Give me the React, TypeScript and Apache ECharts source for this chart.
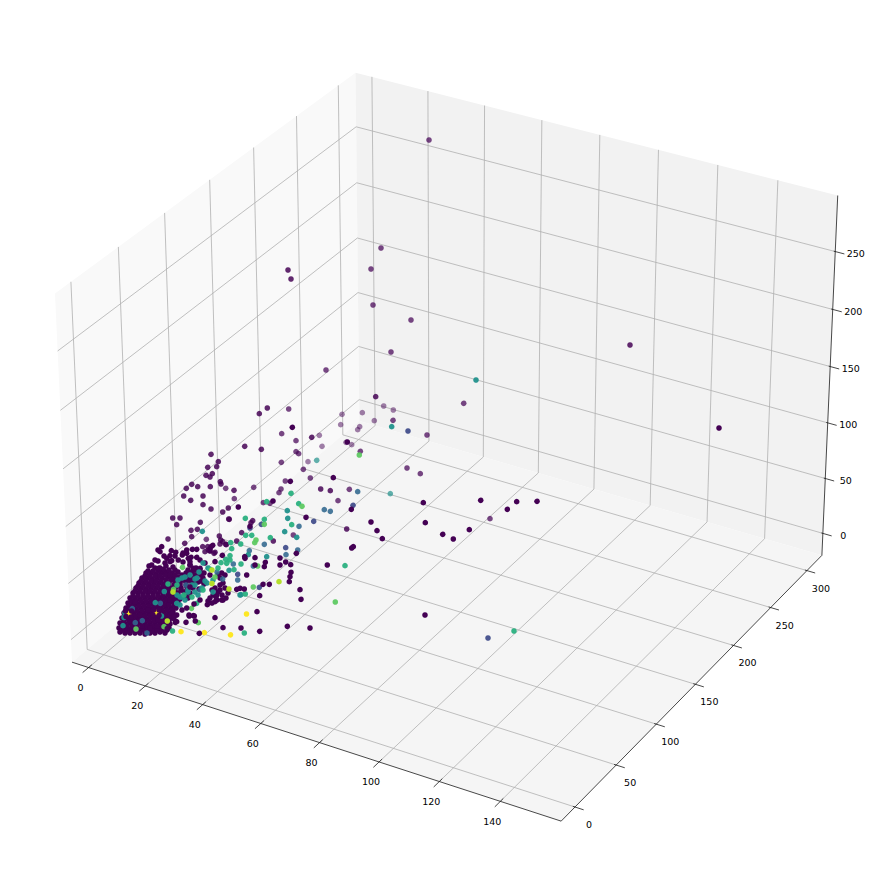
import React, { useEffect, useRef } from "react";
import * as echarts from "echarts";

type Pt = [number, number];

const xTicks = [0, 20, 40, 60, 80, 100, 120, 140];
const yTicks = [0, 50, 100, 150, 200, 250, 300];
const zTicks = [0, 50, 100, 150, 200, 250];
const xLim: Pt = [-5.9, 159.7];
const yLim: Pt = [-16.5, 321];
const zLim: Pt = [-20.2, 297.8];

const purpleFaint: Pt[] = [[383.7,406],[393.3,410],[362.3,412.7],[342,414.3],[340.7,424.7],[359.7,426.7],[357.7,429.7],[374.3,420.7],[346,442.3],[351.7,444.7],[322,446.3],[319.3,435.3],[308,461.7]];
const purpleSoft: Pt[] = [[429,140],[381,248],[371,269],[373,305],[411,320],[391,352],[326,370],[393,420.3],[427,435],[463.7,403.3],[360.3,451.3],[407,468],[420.3,473.7],[349.3,489.3],[338,500.7],[490,518.7],[288.7,409],[281.7,433.7],[296,440.7],[296,451.7],[298.7,453.7],[281.3,462.3],[303.3,469.3],[310.3,478],[285.3,481],[281,489],[279,492.7],[253.7,487.3],[263.3,502.7],[270,503.3],[234.3,498.7],[225.7,488.3],[293.3,535],[206.3,539.3]];
const purpleDeep: Pt[] = [[375.7,396.7],[288,270],[291,279],[630,345],[267.3,408],[259.3,413.7],[311.7,437.3],[244.7,446.3],[261.3,449.3],[234,490.3],[320.7,489],[330.3,490.7],[346.7,529],[229.3,519.3],[252.7,520.7],[251,522.7],[241.7,532.7],[219.3,536],[220.7,540],[236.7,541],[225.7,544.3],[220,544],[215,552.3],[210,549.3],[273.3,541],[211,454.3],[218.3,461.7],[216.7,466.7],[207.7,467.3],[212.3,473.7],[206,475.3],[210,477],[220.3,481.7],[221,484],[191.7,484.3],[197.7,486.7],[186.3,488.3],[210.3,486.7],[183.7,496],[203,496],[190.7,500.3],[203,504.7],[211,509],[228.3,508],[222.7,512],[172.7,518],[180,518],[176.7,524.7],[228.7,519],[200.3,522.3],[197.3,529.3],[191,530.3],[191.7,536.7],[168,539],[184.7,543.3],[222.7,541.7],[226.3,544.7],[202.7,546.7],[207.7,546.7],[205,551.7],[208.3,550],[214,553.3]];
const purpleBase: Pt[] = [
  [120,632],[125,633],[130,633],[135,633],[140,633],[145,634],[150,633],[155,633],[160,632],[165,633],
  [119,628],[124,628],[129,629],[134,628],[139,629],[144,628],[149,628],[154,629],[159,628],[164,627],[169,628],
  [120,623],[125,624],[130,623],[135,624],[140,623],[145,624],[150,623],[155,624],[160,623],[165,623],[170,624],
  [122,618],[127,618],[132,619],[137,618],[142,618],[147,619],[152,618],[157,618],[162,619],[167,617],[172,618],
  [124,613],[129,613],[134,614],[139,613],[144,613],[149,614],[154,613],[159,614],[164,612],[169,613],[173,612],
  [126,608],[131,608],[136,609],[141,608],[146,608],[151,609],[156,608],[161,608],[166,607],[171,608],[176,608],
  [128,603],[133,603],[138,604],[143,603],[148,603],[153,604],[158,603],[163,603],[168,603],[173,602],[178,603],
  [130,598],[135,598],[140,599],[145,598],[150,598],[155,599],[160,598],[165,598],[170,597],[175,598],[180,599],[188,598],
  [133,593],[138,593],[143,594],[148,593],[153,593],[158,594],[163,593],[168,593],[173,594],[178,593],[184,592],[190,593],
  [136,588],[141,588],[146,589],[151,588],[156,588],[161,589],[166,588],[171,588],[176,587],[181,588],[187,587],[193,588],[199,589],
  [139,583],[144,583],[149,584],[154,583],[159,583],[164,584],[169,583],[175,582],[180,583],[186,582],[192,583],[198,582],[204,584],
  [142,578],[147,578],[152,579],[157,578],[162,578],[168,577],[173,578],[179,577],[185,578],[191,578],[197,577],[203,578],
  [146,573],[151,573],[156,574],[161,573],[167,572],[172,573],[178,572],[186,573],[192,572],[198,573],[204,573],
  [149,566],[155,568],[160,568],[166,566],[173,567],[190,565],[196,568],[200,560],[205,563],
  [122,630],[127,631],[132,630],[137,631],[142,630],[147,631],[152,631],[157,630],[162,630],[167,630],
  [122,626],[127,626],[132,626],[137,625],[142,626],[147,626],[152,626],[157,626],[162,625],[167,625],
  [124,621],[129,621],[134,621],[139,621],[144,621],[149,621],[154,621],[159,621],[164,620],[169,621],
  [125,616],[130,616],[135,616],[140,616],[145,616],[150,616],[155,616],[160,616],[165,615],[170,616],
  [127,611],[132,611],[137,611],[142,611],[147,611],[152,611],[157,611],[162,610],[167,610],[172,610],
  [129,606],[134,606],[139,606],[144,606],[149,606],[154,606],[159,606],[164,605],[169,605],[174,605],
  [131,601],[136,601],[141,601],[146,601],[151,601],[156,601],[161,601],[166,600],[171,600],[176,600],
  [133,596],[138,596],[143,596],[148,596],[153,596],[158,596],[163,596],[168,595],[173,596],[178,596],[186,596],
  [135,591],[140,591],[145,591],[150,591],[155,591],[160,591],[165,590],[170,590],[175,590],[181,590],[187,590],
  [138,586],[143,586],[148,586],[153,586],[158,586],[163,586],[168,585],[174,585],[180,585],[186,585],[193,585],
  [141,581],[146,581],[151,581],[156,581],[161,581],[166,580],[171,580],[177,580],[183,580],[189,580],[195,580],[201,581],
  [145,576],[150,576],[155,576],[160,576],[165,575],[170,575],[175,575],[182,575],[189,575],[195,575],[201,575],
  [148,571],[153,571],[158,571],[163,571],[169,570],[175,570],[188,570],[194,570],[200,570],
  [151.7,565],[155,560],[158.3,568.3],[163.3,569.3],[190,565],[193.3,568.3],[200,568.3],[178.3,560],[166.7,558.3],[170,561.7],[188.3,558.3],[164,556],[183,562],[165,563],[186.7,553.3],[196.7,549.3],[210,551],[211,546.7],[183,553],
  [161.7,546.7],[158,550],[160,551.7],[171.3,550.7],[175.7,552.3],[170,555.7],[175,556],[186.7,550],[192.3,549.3],[182.3,555],[191,557.3],[196.7,557.3],[171.7,560.7],[158,561],[190,561.7],[215,561.7],[212.7,545.3],
  [212,590],[215,588],[220,585],[223,583],[225,588],[228,593],[218,592],[222,595],[213,595],[217,600],[223,600],[210,598],[221.7,573],[218,575],[225,575],[220,578],[210,575],[216.7,595],[221.7,600],[215,601.7],[207.3,604.7],[208,601],
];
const purpleSolid: Pt[] = [[719,428],[292.3,427.3],[347.3,442],[333.3,477.7],[423.3,502.7],[480.7,500.3],[516.7,501.7],[537,501.3],[507.3,509.3],[351.3,509.3],[371,522],[377,530.7],[382.3,538.7],[425.3,522.7],[442.7,534.3],[453.3,539],[469.3,529.7],[353.3,546.7],[351.7,548],[327.3,565],[425,615],[310,628],[287.3,626.3],[259.7,631.3],[241,628],[223,627.7],[215,617.7],[257,611.7],[301,599.3],[300,589.7],[259.7,595.7],[291,572.3],[290,576.7],[289.3,581.7],[269.3,584.3],[263,584.3],[236.7,589.3],[240,588.3],[244.3,589],[285.7,562],[290.7,564.7],[265.3,562.3],[264.3,566.7],[255,565],[280,565],[246.7,575],[244.7,556.7],[255,557.7],[280,558],[222.3,555.3],[296.3,553.3],[238.3,507],[250,526.3],[273,501],[290.3,481.3],[306,517.3],[199.3,633.3],[195.3,621],[186,622.3],[175.3,622.3],[173.7,618.3],[193.3,615.7],[189.3,616],[182,610],[186.7,608],[245,558.3],[194,604],[171.7,613],[176.7,615]];

const tealDeep: Pt[] = [[476,380],[391.7,426.7],[287.3,510.7],[287.7,518.3],[284.7,531.7],[296.7,537.3],[248.3,554.7],[266.7,556.7],[229,570.3],[241,594.7],[202.3,531.3],[203,563],[208,568],[199,572],[190,575],[182,578],[195,585],[205,581],[180,597],[185,600],[176.7,603.3],[180,605],[164.3,591.5],[161.5,616],[123,625.7],[124,617.5],[125,613],[155.3,602.7],[240,595],[213,592],[198,595],[213,580],[195,579],[188,590],[178,580],[185,577],[192,585],[197,578],[188,592],[195,592],[202,588],[207,583],[182,597],[177,595]];
const tealFaint: Pt[] = [[316.7,460.3],[390.3,493.7]];
const seaGreen: Pt[] = [[514,631],[345,565.7],[291,493.3],[266.7,501.7],[298.7,503.7],[291.7,524.7],[245.3,518.3],[264.3,519.3],[270.3,537.7],[245.7,535.3],[251.7,535.3],[240.7,544],[231.7,548.7],[230,555.7],[230.7,542.7],[225.7,559.3],[230,560],[221,562.7],[241,564],[234,569.7],[245.3,594],[244.3,633],[172.5,631],[226.7,563.3],[218,568],[210,569.3],[184,595],[196.7,603.3],[203,590],[192,597],[177,585],[168,584]];
const blueTeal: Pt[] = [[357.7,491.7],[324.3,509.7],[330.3,511.3],[299,526.3],[264.3,544.3],[286,554.7],[237.7,580],[217,572],[222.7,579],[249.3,550.7],[253.3,566],[233.3,564],[297.7,550],[142.3,620.7],[135.3,622.7],[132.3,608.7],[160.3,603.3],[147,633],[200,590],[186,585]];
const indigo: Pt[] = [[488,638],[408,431],[353,505.3],[313.7,521.3],[261.3,524.3],[285.7,547.7],[237.7,574.3],[259.3,587.3],[250,528]];
const greenBright: Pt[] = [[335.3,602],[359.3,455],[302,506.3],[264.3,524.3],[256,540],[254.7,542.7],[253.3,587],[257.7,566],[182.5,567.3],[191.5,608.3],[198.3,622.7],[173.5,589.3],[136,629],[164,626.7],[215,577]];
const limeGreen: Pt[] = [[279,581.7],[212,583.5],[229,589],[173,592],[167.3,621],[212,570]];
const yellow: Pt[] = [[246.5,614],[230.5,634.8],[204.3,632.7],[181,631.7],[128.7,613.7],[156.3,612.3]];
const purpleOver: Pt[] = [[216,597],[220,590],[226,598],[212,603],[167.3,628.3],[176.7,621.7],[174,616.7],[189,615],[194.3,616],[140,615],[150,628],[158,620],[135,602],[148,610],[170,600],[190,587],[200,600],[125.5,611],[131.5,611],[126,616.5],[131,617],[153.5,610],[159,610],[153,615],[159,615.5]];

const CSS_FONT = '"DejaVu Sans", sans-serif';

// Perspective view of a 4:4:3 box, elevation 30, azimuth -60, eye distance 10.
const box = [1.1428, 1.1428, 0.857];
const RIGHT = [0.866025, 0.5, 0];
const UP = [-0.25, 0.433013, 0.866025];
const EYE = [0.433013, -0.75, 0.5];
const view = { scale: 4905, cx: 453.6, cy: 429.6 };

function project(x: number, y: number, z: number): Pt {
  const p = [
    ((x - xLim[0]) / (xLim[1] - xLim[0]) - 0.5) * box[0],
    ((y - yLim[0]) / (yLim[1] - yLim[0]) - 0.5) * box[1],
    ((z - zLim[0]) / (zLim[1] - zLim[0]) - 0.5) * box[2],
  ];
  const dot = (a: number[]) => a[0] * p[0] + a[1] * p[1] + a[2] * p[2];
  const w = 10 - dot(EYE);
  return [view.cx + (view.scale * dot(RIGHT)) / w, view.cy - (view.scale * dot(UP)) / w];
}

const [x0, x1] = xLim;
const [y0, y1] = yLim;
const [z0, z1] = zLim;

const panes = [
  { fill: "#f9f9f9", corners: [project(x0, y0, z0), project(x0, y1, z0), project(x0, y1, z1), project(x0, y0, z1)] },
  { fill: "#f2f2f2", corners: [project(x0, y1, z0), project(x1, y1, z0), project(x1, y1, z1), project(x0, y1, z1)] },
  { fill: "#f5f5f5", corners: [project(x0, y0, z0), project(x1, y0, z0), project(x1, y1, z0), project(x0, y1, z0)] },
];

function seg(a: Pt, b: Pt): number[] {
  return [a[0], a[1], b[0], b[1]];
}

const gridSegments: number[][] = [];
xTicks.forEach((t) => {
  gridSegments.push(seg(project(t, y0, z0), project(t, y1, z0)), seg(project(t, y1, z0), project(t, y1, z1)));
});
yTicks.forEach((t) => {
  gridSegments.push(seg(project(x1, t, z0), project(x0, t, z0)), seg(project(x0, t, z0), project(x0, t, z1)));
});
zTicks.forEach((t) => {
  gridSegments.push(seg(project(x0, y0, t), project(x0, y1, t)), seg(project(x0, y1, t), project(x1, y1, t)));
});

const inkSegments: number[][] = [
  seg(project(x0, y0, z0), project(x1, y0, z0)),
  seg(project(x1, y0, z0), project(x1, y1, z0)),
  seg(project(x1, y1, z0), project(x1, y1, z1)),
];
xTicks.forEach((t) => inkSegments.push(seg(project(t, y0 - 6.5, z0), project(t, y0 + 3.5, z0))));
yTicks.forEach((t) => inkSegments.push(seg(project(x1 + 2.8, t, z0), project(x1 - 0.7, t, z0))));
zTicks.forEach((t) => inkSegments.push(seg(project(x1 + 3, y1, t), project(x1 - 0.5, y1, t))));

function labelAt(p: Pt, dx: number, dy: number, text: number): [number, number, string] {
  return [p[0] + dx, p[1] + dy, String(text)];
}
const tickLabels = [
  ...xTicks.map((t) => labelAt(project(t, y0, z0), -8, 20, t)),
  ...yTicks.map((t) => labelAt(project(x1, t, z0), 14, 17.5, t)),
  ...zTicks.map((t) => labelAt(project(x1, y1, t), 20.5, 2, t)),
];

function lineSeries(data: number[][], stroke: string, width: number) {
  return {
    type: "custom",
    silent: true,
    clip: false,
    data,
    encode: { x: [0, 2], y: [1, 3] },
    renderItem: (_: any, api: any) => {
      const a = api.coord([api.value(0), api.value(1)]);
      const b = api.coord([api.value(2), api.value(3)]);
      return {
        type: "line",
        shape: { x1: a[0], y1: a[1], x2: b[0], y2: b[1] },
        style: { stroke, lineWidth: width, fill: "none" },
      };
    },
  };
}

function dots(data: Pt[], color: string, opacity: number) {
  return {
    type: "scatter",
    silent: true,
    data,
    symbol: "circle",
    symbolSize: 5.6,
    itemStyle: { color, opacity, borderWidth: 0 },
  };
}

export default function App() {
  const ref = useRef<HTMLDivElement>(null);
  useEffect(() => {
    if (!ref.current) return;
    const chart = echarts.init(ref.current, undefined, { renderer: "svg" });
    chart.setOption({
      animation: false,
      backgroundColor: "#ffffff",
      tooltip: { show: false },
      grid: { left: 0, right: 0, top: 0, bottom: 0 },
      xAxis: { type: "value", min: 0, max: 884, show: false },
      yAxis: { type: "value", min: 0, max: 884, inverse: true, show: false },
      series: [
        {
          type: "custom",
          silent: true,
          clip: false,
          data: panes.map((_, i) => [i, 0]),
          encode: { x: 0, y: 1 },
          renderItem: (params: any, api: any) => {
            const pane = panes[params.dataIndex];
            return {
              type: "polygon",
              shape: { points: pane.corners.map((c) => api.coord(c)) },
              style: { fill: pane.fill, stroke: "none" },
            };
          },
        },
        lineSeries(gridSegments, "#b0b0b0", 0.8),
        lineSeries(inkSegments, "#1a1a1a", 0.8),
        {
          type: "custom",
          silent: true,
          clip: false,
          data: tickLabels,
          encode: { x: 0, y: 1 },
          renderItem: (params: any, api: any) => {
            const row = tickLabels[params.dataIndex];
            const c = api.coord([row[0], row[1]]);
            return {
              type: "text",
              style: {
                x: c[0],
                y: c[1],
                text: row[2],
                fill: "#000000",
                font: `9.5px ${CSS_FONT}`,
                textAlign: "center",
                textVerticalAlign: "middle",
              },
            };
          },
        },
        dots(purpleFaint, "#440154", 0.5),
        dots(purpleSoft, "#440154", 0.72),
        dots(purpleDeep, "#440154", 0.84),
        dots(purpleBase, "#440154", 1),
        dots(tealFaint, "#21918c", 0.7),
        dots(indigo, "#3e4a89", 0.92),
        dots(blueTeal, "#31688e", 0.88),
        dots(tealDeep, "#21918c", 0.95),
        dots(seaGreen, "#2ab07f", 0.95),
        dots(greenBright, "#5ec962", 0.95),
        dots(limeGreen, "#b5de2b", 1),
        dots(yellow, "#fde725", 1),
        dots(purpleSolid, "#440154", 1),
        dots(purpleOver, "#440154", 1),
      ],
    });
    return () => chart.dispose();
  }, []);
  return <div ref={ref} style={{ position: "absolute", left: 0, top: 0, width: 884, height: 884 }} />;
}
